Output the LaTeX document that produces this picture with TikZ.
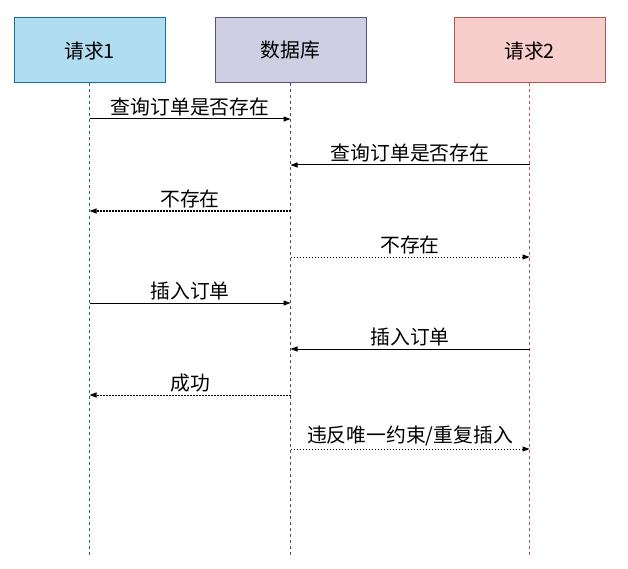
\documentclass[tikz,border=0pt]{standalone}
\usepackage{fontspec}
\setmainfont{Noto Sans CJK SC}
\usetikzlibrary{arrows.meta,positioning}

\definecolor{reqOneFill}{HTML}{B1DDF0}
\definecolor{reqOneLine}{HTML}{10739E}
\definecolor{dbFill}{HTML}{D0CEE2}
\definecolor{dbLine}{HTML}{56517E}
\definecolor{reqTwoFill}{HTML}{F8CECC}
\definecolor{reqTwoLine}{HTML}{B85450}

\begin{document}
\begin{tikzpicture}[x=1pt,y=-1pt,>={Triangle[length=7pt,width=5pt]},line width=1pt,
  font=\fontsize{19.8}{22}\selectfont,
  actor/.style={draw,minimum width=151pt,minimum height=65pt,inner sep=0pt},
  lifeline/.style={line width=0.8pt,dash pattern=on 3pt off 3pt},
  call/.style={->},
  reply/.style={->,dash pattern=on 1.5pt off 1.5pt},
  msg/.style={above,inner sep=2.5pt}]

\useasboundingbox (0,0) rectangle (628,569);

% define the participants
  \node[actor, fill=reqOneFill, draw=reqOneLine] (req1) at (89.5,50.5) {请求1};
  \node[actor, fill=dbFill, draw=dbLine]   (db)   [right=49pt of req1] {数据库};
  \node[actor, fill=reqTwoFill, draw=reqTwoLine] (req2) [right=87pt of db] {请求2};

% define the lifelines
  \coordinate (req1-end) at (req1 |- 0,555);
  \coordinate (db-end)   at (db |- 0,555);
  \coordinate (req2-end) at (req2 |- 0,555);
  \draw[lifeline, draw=reqOneLine] (req1) -- (req1-end);
  \draw[lifeline, draw=dbLine]     (db) -- (db-end);
  \draw[lifeline, draw=reqTwoLine] (req2) -- (req2-end);

% points on the lifelines
  \foreach \n/\y in {1/119,2/165,3/211,4/257,5/303,6/349,7/395,8/449}{
    \coordinate (r1-\n) at (req1 |- 0,\y);
    \coordinate (db-\n) at (db |- 0,\y);
    \coordinate (r2-\n) at (req2 |- 0,\y);
  }

% define the messages
  \path (r1-1) edge [call]  node[msg] {查询订单是否存在} (db-1)
        (r2-2) edge [call]  node[msg] {查询订单是否存在} (db-2)
        (db-3) edge [reply] node[msg] {不存在} (r1-3)
        (db-4) edge [reply] node[msg] {不存在} (r2-4)
        (r1-5) edge [call]  node[msg] {插入订单} (db-5)
        (r2-6) edge [call]  node[msg] {插入订单} (db-6)
        (db-7) edge [reply] node[msg] {成功} (r1-7)
        (db-8) edge [reply] node[msg] {违反唯一约束/重复插入} (r2-8);

\end{tikzpicture}
\end{document}
